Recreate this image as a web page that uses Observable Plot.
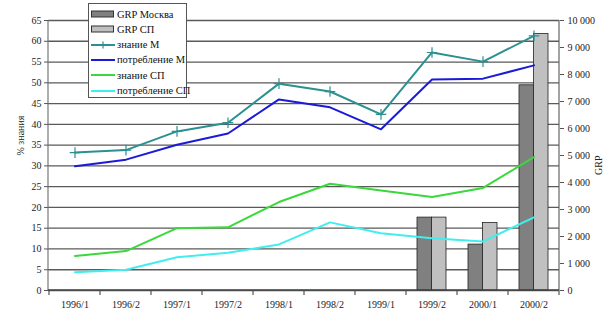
<!DOCTYPE html>
<html><head><meta charset="utf-8">
<script src="https://cdn.jsdelivr.net/npm/d3@7"></script>
<script src="https://cdn.jsdelivr.net/npm/@observablehq/plot@0.6"></script>
<style>
body{margin:0;background:#fff;}
#wrap{position:relative;width:613px;height:333px;font-family:"Liberation Serif","DejaVu Serif",serif;}
#chart svg, #chart svg text{font-family:"Liberation Serif","DejaVu Serif",serif !important;}
#legend{position:absolute;left:88px;top:3px;width:99px;height:95px;background:#fff;border:1px solid #555;box-sizing:border-box;font-size:10.5px;color:#111;font-family:"Liberation Serif","DejaVu Serif",serif;}
#legend .row{position:absolute;left:2px;height:14px;display:flex;align-items:center;white-space:nowrap;}
#legend svg{margin-right:2px;}
</style></head>
<body><div id="wrap"><div id="chart"></div><div id="legend"></div></div>
<script>
const periods = ["1996/1","1996/2","1997/1","1997/2","1998/1","1998/2","1999/1","1999/2","2000/1","2000/2"];
const znanieM = [33.2,33.8,38.3,40.4,49.8,47.9,42.4,57.3,55.1,61.3];
const potrM   = [29.9,31.5,35.1,37.8,46.0,44.1,38.8,50.8,51.0,54.2];
const znanieSP= [8.3,9.5,15.0,15.2,21.3,25.7,24.1,22.5,24.7,32.1];
const potrSP  = [4.4,5.0,8.0,9.1,11.1,16.4,13.8,12.6,11.8,17.6];
const grpMoscow = [null,null,null,null,null,null,null,2700,1700,7600];
const grpSP     = [null,null,null,null,null,null,null,2700,2500,9500];
const leftTicks = d3.range(0,66,5);
const grpTicks = d3.range(0,10001,1000);
const names = ["GRP Москва","GRP СП","знание М","потребление М","знание СП","потребление СП"];
const colors = {"GRP Москва":"#808080","GRP СП":"#c0c0c0","знание М":"#2a9090","потребление М":"#1a1ad8","знание СП":"#3ad83a","потребление СП":"#40eeee"};

const K = 65/10000;
const lines = [];
[[names[2],znanieM],[names[3],potrM],[names[4],znanieSP],[names[5],potrSP]].forEach(([s,arr])=>arr.forEach((v,i)=>lines.push({s,p:periods[i],v})));
const bars = [];
[[names[0],grpMoscow],[names[1],grpSP]].forEach(([s,arr])=>arr.forEach((v,i)=>{if(v!=null)bars.push({s,p:periods[i],v:v*K});}));
const fmt = n => d3.format(",")(n).replace(/,/g," ");

const axisLines = (index, scales, values, dims) => {
  const g = d3.create("svg:g").attr("stroke","#555").attr("stroke-width",1.2).attr("fill","none");
  const y0 = scales.y(0), yTop = scales.y(65);
  const xL = dims.marginLeft, xR = dims.width - dims.marginRight;
  const xs = periods.map(p=>scales.x(p));
  xs.push(xR);
  xs.forEach(x=>g.append("line").attr("x1",x).attr("x2",x).attr("y1",y0).attr("y2",y0+5));
  g.append("line").attr("x1",xL).attr("x2",xL).attr("y1",yTop).attr("y2",y0).attr("stroke","#777");
  g.append("line").attr("x1",xR).attr("x2",xR).attr("y1",yTop).attr("y2",y0).attr("stroke","#666");
  g.append("line").attr("x1",xL).attr("x2",xR).attr("y1",y0).attr("y2",y0).attr("stroke","#444").attr("stroke-width",1.3);
  return g.node();
};

const chart = Plot.plot({
  width:613, height:333, marginLeft:48, marginRight:54, marginTop:20, marginBottom:43,
  style:{fontFamily:"'Liberation Serif', serif", fontSize:"10px", color:"#222", background:"#fff"},
  x:{type:"band", domain:periods, padding:0},
  y:{domain:[0,65]},
  marks:[
    Plot.gridY(leftTicks,{stroke:"#5a5a5a", strokeOpacity:1, strokeWidth:1.3}),
    Plot.barY(bars.filter(d=>d.s===names[0]),{x:"p", y:"v", fill:colors[names[0]], stroke:"#222", strokeWidth:0.8, insetLeft:11, insetRight:25.5}),
    Plot.barY(bars.filter(d=>d.s===names[1]),{x:"p", y:"v", fill:colors[names[1]], stroke:"#222", strokeWidth:0.8, insetLeft:25.5, insetRight:11}),
    axisLines,
    Plot.axisY({ticks:leftTicks, tickSize:4, tickPadding:3, label:null, stroke:"#555"}),
    Plot.axisY({anchor:"right", ticks:grpTicks.map(t=>t*K), tickFormat:d=>fmt(Math.round(d/K/1000)*1000), tickSize:4, tickPadding:4, label:null, stroke:"#555"}),
    Plot.axisX({tickSize:0, tickPadding:10, label:null}),
    Plot.lineY(lines,{x:"p", y:"v", z:"s", stroke:d=>colors[d.s], strokeWidth:2}),
    Plot.dot(lines.filter(d=>d.s===names[2]),{x:"p", y:"v", symbol:"plus", r:3.5, stroke:colors[names[2]], strokeWidth:1.2}),
    Plot.text(["% знания"],{frameAnchor:"left", dx:-28, rotate:-90, fontSize:10, fill:"#222"}),
    Plot.text(["GRP"],{frameAnchor:"right", dx:39, rotate:-90, fontSize:10, fill:"#222"})
  ]
});
document.getElementById("chart").append(chart);

// legend
const leg = d3.select("#legend");
names.forEach((n,i)=>{
  const row = leg.append("div").attr("class","row").style("top",(3+i*15.3)+"px");
  const s = row.append("svg").attr("width",24).attr("height",10);
  if(i<2){
    s.append("rect").attr("x",0.5).attr("y",2).attr("width",22).attr("height",6).attr("fill",colors[n]).attr("stroke","#333");
  } else {
    s.append("line").attr("x1",0).attr("x2",24).attr("y1",5).attr("y2",5).attr("stroke",colors[n]).attr("stroke-width",2);
    if(i===2) s.append("path").attr("d","M12,1.5V8.5M8.5,5H15.5").attr("stroke",colors[n]).attr("stroke-width",1.2);
  }
  row.append("span").text(n);
});
</script></body></html>
